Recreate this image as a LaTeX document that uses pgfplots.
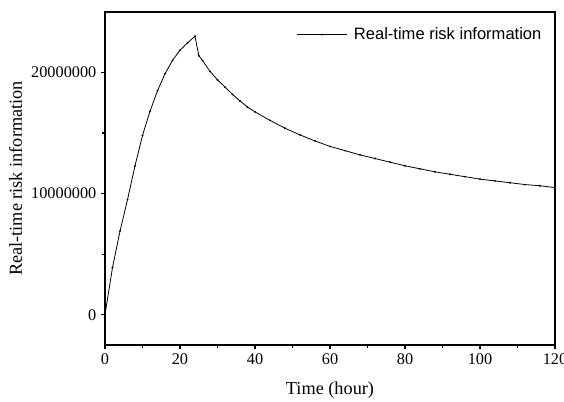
\documentclass[border=0pt]{standalone}
\usepackage{pgfplots}
\pgfplotsset{compat=1.18}
\usepackage{fontspec}
\setmainfont{Liberation Serif}
\newfontfamily\arialfont{Liberation Sans}

\pgfplotstableread{
t   risk
0   0
2   3900000
4   6900000
6   9500000
8   12300000
10  14800000
12  16800000
14  18500000
16  19900000
18  21000000
20  21850000
22  22450000
24  23000000
25  21400000
26  21000000
28  20100000
30  19400000
32  18800000
34  18200000
36  17650000
38  17150000
40  16750000
44  16050000
48  15400000
52  14850000
56  14350000
60  13900000
64  13550000
68  13200000
72  12900000
76  12600000
80  12300000
84  12050000
88  11800000
92  11600000
96  11400000
100 11200000
104 11050000
108 10900000
112 10750000
116 10650000
120 10500000
}\risktable

\begin{document}
\begin{tikzpicture}
  \begin{axis}[
    scale only axis,
    width=337.5pt,
    height=249.75pt,
    xmin=0, xmax=120,
    ymin=-2500000, ymax=25000000,
    xtick={0,20,...,120},
    minor x tick num=1,
    ytick={0,10000000,20000000},
    minor y tick num=1,
    scaled y ticks=false,
    yticklabel style={/pgf/number format/fixed,/pgf/number format/1000 sep={}},
    /pgf/number format/assume math mode=true,
    tick align=outside,
    xtick pos=bottom,
    ytick pos=left,
    major tick length=3pt,
    minor tick length=2pt,
    axis line style={line width=1.1pt},
    every tick/.style={line width=1pt,black},
    tick label style={font=\fontsize{12.2}{14}\selectfont},
    label style={font=\fontsize{13.7}{16}\selectfont},
    xlabel={Time (hour)},
    xlabel style={yshift=-6pt},
    ylabel={Real-time risk information},
    legend style={draw=none,fill=none,at={(1,1)},anchor=north east,
      xshift=-5pt,yshift=-7.5pt,font=\arialfont\fontsize{12.4}{14}\selectfont},
    legend image code/.code={\draw[mark repeat=2,mark phase=2,#1] plot coordinates {(0cm,0cm) (0.66cm,0cm) (1.32cm,0cm)};\path (1.425cm,0cm);},
  ]
  \addplot[black,line width=0.6pt,mark=*,mark size=0.35pt] table[x=t,y=risk] {\risktable};
  \legend{Real-time risk information}
  \end{axis}
  \pgfresetboundingbox
  \path[use as bounding box] ([shift={(-78.75pt,-42pt)}]current axis.south west) rectangle ([shift={(6.75pt,9pt)}]current axis.north east);
\end{tikzpicture}
\end{document}
